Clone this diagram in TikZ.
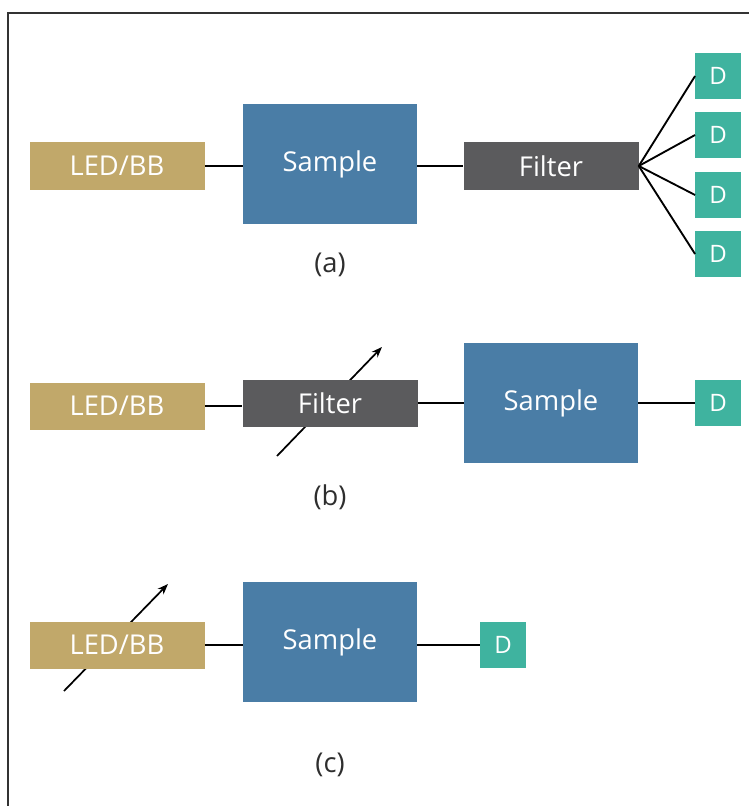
\documentclass[tikz,border=0pt]{standalone}
\usepackage{fontspec}
\setmainfont{Open Sans}
\usepackage{tikz}
\usetikzlibrary{arrows.meta, positioning, calc}
\definecolor{cgold}{HTML}{C1A86A}
\definecolor{csteel}{HTML}{4A7DA6}
\definecolor{cdark}{HTML}{5B5B5D}
\definecolor{cteal}{HTML}{3FB39F}
\definecolor{cframe}{HTML}{333333}
\definecolor{clabel}{HTML}{2E2E2E}

\tikzset{
  box/.style={rectangle, inner sep=0pt, text=white, font=\fontsize{20.5}{22}\selectfont},
  ledbox/.style={box, fill=cgold, minimum width=131.25pt, minimum height=35.25pt},
  filterbox/.style={box, fill=cdark, minimum width=131.25pt, minimum height=35.25pt},
  samplebox/.style={box, fill=csteel, minimum width=130.5pt, minimum height=90pt},
  detbox/.style={box, fill=cteal, minimum width=34pt, minimum height=35pt, font=\fontsize{18}{20}\selectfont},
  wire/.style={draw=black, line width=1.4pt},
  tune/.style={draw=black, line width=1.3pt, -{Stealth[length=8pt, width=6pt]}},
  caption/.style={text=clabel, font=\fontsize{20.5}{22}\selectfont}
}

\begin{document}
\begin{tikzpicture}[x=0.75pt, y=-0.75pt]
  \useasboundingbox (0,0) rectangle (749,806);
  % Frame (open on right and bottom)
  \draw[cframe, line width=1.2pt] (8,806) -- (8,13) -- (749,13);

  % tuning arrows go behind the boxes
  \coordinate (tuneB1) at (277,456);
  \coordinate (tuneB2) at (382,347);
  \draw[tune] (tuneB1) -- (tuneB2);
  \coordinate (tuneC1) at (64,691);
  \coordinate (tuneC2) at (168,584);
  \draw[tune] (tuneC1) -- (tuneC2);

  % Panel (a)
  \node[ledbox] (ledA) at (117,166) {LED/BB};
  \node[samplebox] (sampleA) at (330,164) {Sample};
  \node[filterbox] (filterA) at (551,166) {Filter};
  \foreach \i/\y in {1/76, 2/135, 3/195, 4/254}{
    \node[detbox] (detA\i) at (718,\y) {D};
    \draw[wire] (filterA.east) -- (detA\i.west);
  }
  \draw[wire] (ledA.east) -- (ledA.east -| sampleA.west);
  \draw[wire] (sampleA.east |- filterA.west) -- (filterA.west);
  \node[caption] (capA) at (330,265) {(a)};

  % Panel (b)
  \node[ledbox] (ledB) at (117,406) {LED/BB};
  \node[filterbox] (filterB) at (330,403) {Filter};
  \node[samplebox] (sampleB) at (551,403) {Sample};
  \node[detbox] (detB) at (718,403) {D};
  \draw[wire] (ledB.east) -- (ledB.east -| filterB.west);
  \draw[wire] (filterB) -- (sampleB);
  \draw[wire] (sampleB) -- (detB);
  \node[caption] (capB) at (330,497) {(b)};

  % Panel (c)
  \node[ledbox] (ledC) at (117,645) {LED/BB};
  \node[samplebox] (sampleC) at (330,642) {Sample};
  \node[detbox] (detC) at (503,645) {D};
  \draw[wire] (ledC.east) -- (ledC.east -| sampleC.west);
  \draw[wire] (sampleC.east |- detC.west) -- (detC.west);
  \node[caption] (capC) at (330,765) {(c)};
\end{tikzpicture}
\end{document}
